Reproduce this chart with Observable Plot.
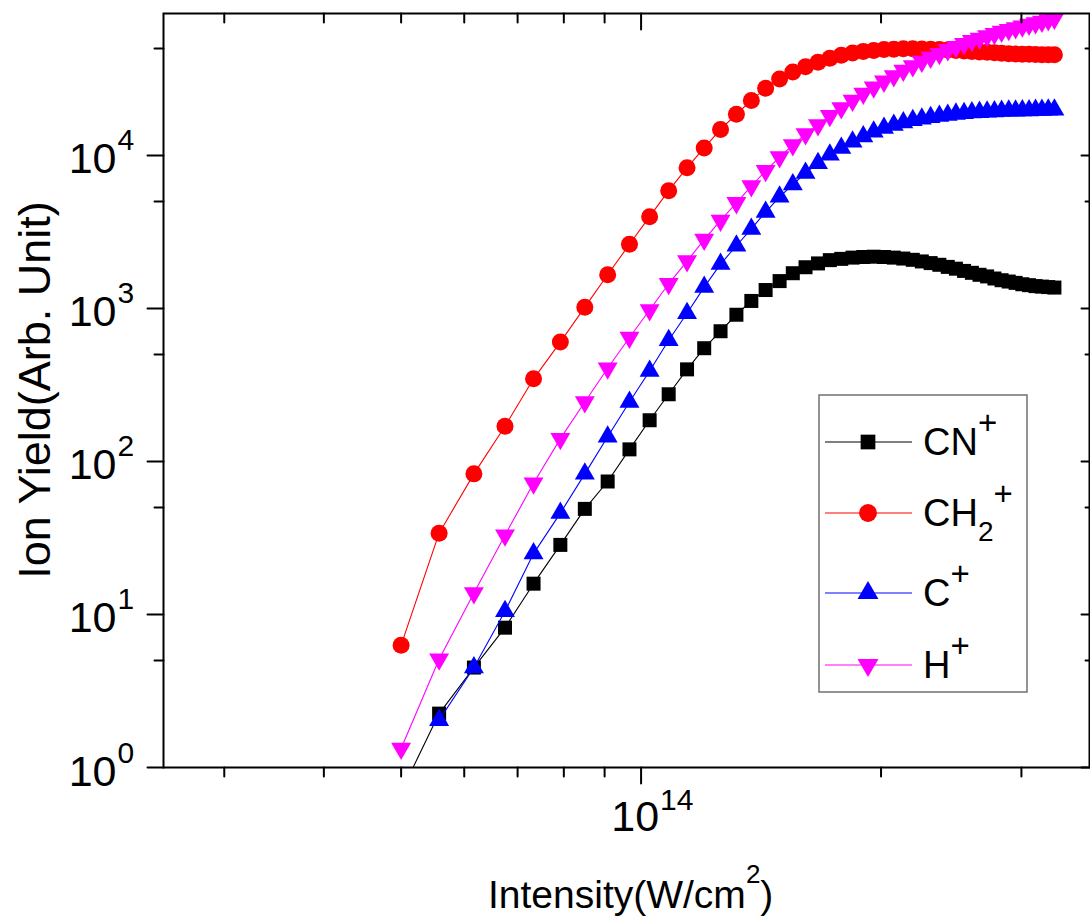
<!DOCTYPE html>
<html><head><meta charset="utf-8">
<script src="https://cdn.jsdelivr.net/npm/d3@7"></script>
<script src="https://cdn.jsdelivr.net/npm/@observablehq/plot@0.6"></script>
<style>body{margin:0;background:#fff} svg{display:block}</style>
</head><body><div id="chart"></div>
<script>
// ---- data ----
const intensity = [5.00e13, 5.58e13, 6.17e13, 6.75e13, 7.33e13, 7.92e13, 8.50e13, 9.08e13, 9.67e13, 1.025e14, 1.083e14, 1.142e14, 1.200e14, 1.258e14, 1.317e14, 1.375e14, 1.433e14, 1.492e14, 1.550e14, 1.608e14, 1.667e14, 1.725e14, 1.783e14, 1.842e14, 1.900e14, 1.958e14, 2.017e14, 2.075e14, 2.133e14, 2.192e14, 2.250e14, 2.308e14, 2.367e14, 2.425e14, 2.483e14, 2.542e14, 2.600e14, 2.658e14, 2.717e14, 2.775e14, 2.833e14, 2.892e14, 2.950e14, 3.008e14, 3.067e14, 3.125e14, 3.183e14, 3.242e14, 3.300e14];
const cnYield = [0.69, 2.25, 4.5, 8.2, 15.9, 28.5, 49, 74, 120, 186, 275, 400, 550, 710, 910, 1120, 1320, 1510, 1700, 1860, 1970, 2070, 2110, 2150, 2170, 2180, 2170, 2150, 2120, 2080, 2030, 1980, 1930, 1870, 1820, 1760, 1710, 1660, 1620, 1570, 1530, 1500, 1470, 1440, 1420, 1400, 1390, 1380, 1370];
const ch2Yield = [6.3, 34, 83, 170, 347, 603, 1020, 1660, 2630, 3980, 5890, 8320, 11200, 14800, 18600, 22900, 27500, 31600, 35100, 38000, 40700, 43200, 45200, 46800, 47900, 48600, 49200, 49500, 49800, 49800, 49700, 49400, 49200, 48900, 48500, 48200, 47900, 47500, 47200, 46900, 46600, 46300, 46100, 45900, 45800, 45700, 45600, 45600, 45600];
const cYield = [null, 2.04, 4.5, 10.5, 25, 46, 83, 145, 245, 390, 620, 930, 1380, 1950, 2570, 3310, 4270, 5370, 6460, 7670, 8910, 10100, 11200, 12300, 13300, 14300, 15100, 15800, 16400, 17000, 17400, 17800, 18100, 18400, 18700, 18900, 19100, 19200, 19300, 19400, 19500, 19600, 19600, 19700, 19700, 19800, 19800, 19900, 19900];
const hYield = [1.33, 5.1, 13.8, 33, 72, 141, 245, 407, 646, 977, 1450, 2040, 2820, 3760, 4900, 6310, 7940, 9770, 11700, 13800, 15800, 18200, 20400, 22900, 25400, 27900, 30500, 33100, 35900, 38500, 41200, 43700, 46200, 49000, 51300, 53700, 56200, 58200, 60300, 62400, 64600, 66400, 68200, 70000, 71800, 73500, 75200, 76900, 78500];

const seriesNames = ["CN+", "CH2+", "C+", "H+"];
const seriesColors = ["#000000", "#ff0000", "#0000ff", "#ff00ff"];

const xMajorTicks = [1e14];
const xMajorBase = ["10"];
const xMajorExp = ["14"];
const xMinorTicks = [3e13, 4e13, 5e13, 6e13, 7e13, 8e13, 9e13, 2e14, 3e14];
const yMajorTicks = [1, 10, 100, 1000, 10000];
const yMajorBase = ["10", "10", "10", "10", "10"];
const yMajorExp = ["0", "1", "2", "3", "4"];
const yMinorTicks = [5, 50, 500, 5000, 50000];

const xTitle = ["Intensity(W/cm", "2", ")"];
const yTitle = "Ion Yield(Arb. Unit)";
// legend label parts: [text, kind]
const legendParts = [
  [["CN", "n"], ["+", "sup"]],
  [["CH", "n"], ["2", "sub"], ["+", "sup"]],
  [["C", "n"], ["+", "sup"]],
  [["H", "n"], ["+", "sup"]]
];

// ---- rendering ----
const FONT = '"Liberation Sans", Arial, Helvetica, sans-serif';
const S3 = Math.sqrt(3);
const triangleDown = {draw(ctx, size) {
  const y = -Math.sqrt(size / (3 * S3));
  ctx.moveTo(0, -2 * y); ctx.lineTo(-S3 * y, y); ctx.lineTo(S3 * y, y); ctx.closePath();
}};
const seriesSymbols = [d3.symbolSquare, d3.symbolCircle, d3.symbolTriangle, triangleDown];
const seriesR = [7.9, 8.5, 7.4, 7.4];
const seriesValues = [cnYield, ch2Yield, cYield, hYield];

const tickShape = {draw(ctx, l) { ctx.moveTo(0, 0); ctx.lineTo(0, -l); }};

const marks = [];
seriesNames.forEach((name, k) => {
  const rows = intensity.map((x, i) => ({x, y: seriesValues[k][i]})).filter(d => d.y != null);
  marks.push(Plot.line(rows, {x: "x", y: "y", stroke: seriesColors[k], strokeWidth: 1.1, clip: true}));
  marks.push(Plot.dot(rows, {x: "x", y: "y", fill: seriesColors[k], stroke: "none", symbol: seriesSymbols[k], r: seriesR[k], clip: true}));
});

// ticks
const tk = (data, ch, anchor, rotate, length) =>
  Plot.vector(data, {[ch]: d => d, frameAnchor: anchor, rotate, length, anchor: "start", shape: tickShape, strokeWidth: 2, stroke: "black"});
marks.push(tk(xMajorTicks, "x", "bottom", 180, 16));
marks.push(tk(xMinorTicks, "x", "bottom", 180, 9));
marks.push(tk(xMajorTicks, "x", "top", 180, 16));
marks.push(tk(xMinorTicks, "x", "top", 180, 9));
marks.push(tk(yMajorTicks, "y", "left", -90, 16));
marks.push(tk(yMinorTicks, "y", "left", -90, 9));
marks.push(tk(yMajorTicks, "y", "right", -90, 8));
marks.push(tk(yMinorTicks, "y", "right", -90, 4));
marks.push(Plot.frame({stroke: "black", strokeWidth: 2}));

// tick labels
marks.push(Plot.text(yMajorTicks, {y: d => d, text: (d, i) => yMajorBase[i], frameAnchor: "left", textAnchor: "end", lineAnchor: "bottom", dx: -47, dy: 18, fontSize: 43, fill: "black"}));
marks.push(Plot.text(yMajorTicks, {y: d => d, text: (d, i) => yMajorExp[i], frameAnchor: "left", textAnchor: "start", lineAnchor: "bottom", dx: -46, dy: -5, fontSize: 30, fill: "black"}));
marks.push(Plot.text(xMajorTicks, {x: d => d, text: (d, i) => xMajorBase[i], frameAnchor: "bottom", textAnchor: "end", lineAnchor: "bottom", dx: 18, dy: 63, fontSize: 43, fill: "black"}));
marks.push(Plot.text(xMajorTicks, {x: d => d, text: (d, i) => xMajorExp[i], frameAnchor: "bottom", textAnchor: "start", lineAnchor: "bottom", dx: 19, dy: 42, fontSize: 30, fill: "black"}));

const svg = Plot.plot({
  width: 1090, height: 920,
  marginLeft: 163, marginRight: 1, marginTop: 13, marginBottom: 153,
  style: {fontFamily: FONT, background: "white", overflow: "visible"},
  x: {type: "log", domain: [2.517e13, 3.652e14], axis: null},
  y: {type: "log", domain: [1, 84700], axis: null},
  marks
});
document.getElementById("chart").appendChild(svg);

// titles & legend added to the same SVG
const g = d3.select(svg).append("g").attr("font-family", FONT).attr("fill", "black").attr("text-anchor", "start");
const xt = g.append("text").attr("x", 488).attr("y", 908).attr("font-size", 39).attr("text-anchor", "start");
xt.append("tspan").text(xTitle[0]);
xt.append("tspan").attr("font-size", 26).attr("dy", -25).text(xTitle[1]);
xt.append("tspan").attr("dy", 25).text(xTitle[2]);

g.append("text").attr("transform", "translate(50,390) rotate(-90)")
  .attr("text-anchor", "middle").attr("font-size", 45).text(yTitle);

const lg = g.append("g");
lg.append("rect").attr("x", 819).attr("y", 395).attr("width", 208).attr("height", 297)
  .attr("fill", "white").attr("stroke", "#707070").attr("stroke-width", 1.5);
const rowY = [442, 513, 593, 665];
seriesNames.forEach((name, k) => {
  const y = rowY[k];
  lg.append("line").attr("x1", 825).attr("x2", 912).attr("y1", y).attr("y2", y)
    .attr("stroke", seriesColors[k]).attr("stroke-width", 1.1);
  const size = Math.PI * Math.pow(seriesR[k] * 1.05, 2);
  lg.append("path").attr("d", d3.symbol(seriesSymbols[k], size)())
    .attr("transform", `translate(868,${y})`).attr("fill", seriesColors[k]);
  const t = lg.append("text").attr("x", 923).attr("y", y + 13).attr("font-size", 38).attr("text-anchor", "start");
  let cur = 0;
  legendParts[k].forEach(([txt, kind]) => {
    const target = kind === "sup" ? -21 : kind === "sub" ? 15 : 0;
    const sp = t.append("tspan").text(txt).attr("dy", target - cur);
    if (kind === "sup") sp.attr("font-size", 33);
    if (kind === "sub") sp.attr("font-size", 28);
    cur = target;
  });
});
</script></body></html>
